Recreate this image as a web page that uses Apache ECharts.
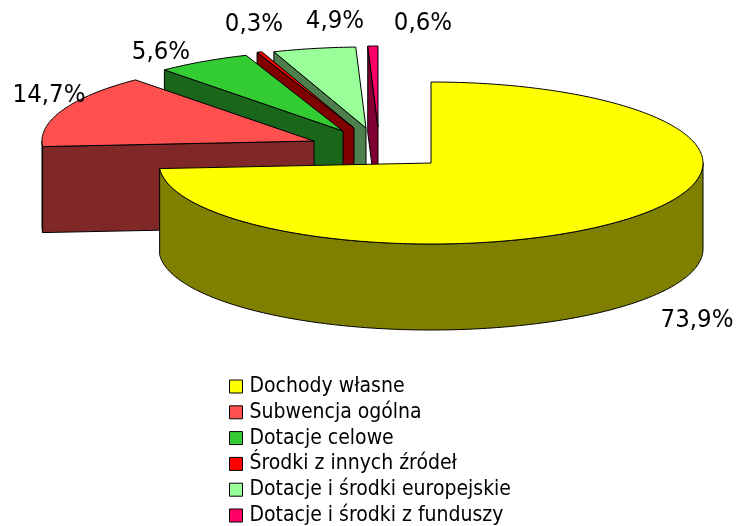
<!DOCTYPE html>
<html>
<head>
<meta charset="utf-8">
<style>
  html, body { margin: 0; padding: 0; background: #fff; }
  #chart { width: 736px; height: 526px; }
</style>
<script src="https://cdn.jsdelivr.net/npm/echarts@6/dist/echarts.min.js"></script>
</head>
<body>
<div id="chart"></div>
<script>
// dane wykresu
const categories = ['Dochody własne', 'Subwencja ogólna', 'Dotacje celowe', 'Środki z innych źródeł', 'Dotacje i środki europejskie', 'Dotacje i środki z funduszy'];
const shares = [73.9, 14.7, 5.6, 0.3, 4.9, 0.6];

// kolory: wierzch i bok
const topColors = ['#ffff00', '#ff5050', '#33cc33', '#ff0000', '#99ff99', '#ff0066'];
const sideColors = ['#808000', '#802828', '#1a661a', '#800000', '#4d804d', '#800033'];

// uklad
const center = [431, 163];
const rx = 272, ry = 81, depth = 86;
const explode = [[0, 0], [-117, -22], [-88, -32], [-77, -35], [-65, -35], [-53, -36]];
const labelPos = [[697, 320], [49, 95], [161, 52], [254, 24], [335, 21], [423, 23]];
const fontName = '"DejaVu Sans Condensed", "DejaVu Sans", sans-serif';

const total = shares.reduce((a, b) => a + b, 0);

function edgePoint(cx, cy, deg) {
  const r = deg * Math.PI / 180;
  return [cx + rx * Math.sin(r), cy - ry * Math.cos(r)];
}

function makeSeries(idx) {
  const before = shares.slice(0, idx).reduce((a, b) => a + b, 0);
  return {
    name: categories[idx],
    type: 'custom',
    coordinateSystem: 'none',
    silent: true,
    animation: false,
    itemStyle: { color: topColors[idx], borderColor: '#000', borderWidth: 1 },
    data: [[shares[idx]]],
    renderItem(params, api) {
      const value = api.value(0);
      const a0 = before / total * 360;
      const a1 = a0 + value / total * 360;
      const cx = center[0] + explode[idx][0];
      const cy = center[1] + explode[idx][1];
      const line = { stroke: '#000', lineWidth: 1, lineJoin: 'round' };
      const children = [];

      // bok zewnetrzny, tylko przednia polowa
      const w0 = Math.max(a0, 90), w1 = Math.min(a1, 270);
      if (w1 > w0) {
        const upper = [];
        for (let a = w0; a < w1; a += 1) upper.push(edgePoint(cx, cy, a));
        upper.push(edgePoint(cx, cy, w1));
        const lower = upper.map(p => [p[0], p[1] + depth]).reverse();
        children.push({
          type: 'polygon',
          shape: { points: upper.concat(lower) },
          style: Object.assign({ fill: sideColors[idx] }, line)
        });
      }

      // sciana przekroju przy poczatku wycinka
      if (a0 > 0) {
        const s = edgePoint(cx, cy, a0);
        children.push({
          type: 'polygon',
          shape: { points: [[cx, cy], s, [s[0], s[1] + depth], [cx, cy + depth]] },
          style: Object.assign({ fill: sideColors[idx] }, line)
        });
      }

      // wierzch
      const pts = [[cx, cy]];
      for (let a = a0; a < a1; a += 1) pts.push(edgePoint(cx, cy, a));
      pts.push(edgePoint(cx, cy, a1));
      children.push({
        type: 'polygon',
        shape: { points: pts },
        style: Object.assign({ fill: topColors[idx] }, line)
      });

      children.push({
        type: 'text',
        z2: 10,
        style: {
          text: value.toFixed(1).replace('.', ',') + '%',
          x: labelPos[idx][0],
          y: labelPos[idx][1],
          align: 'center',
          verticalAlign: 'middle',
          fill: '#000',
          font: '25.5px ' + fontName
        }
      });
      return { type: 'group', children };
    }
  };
}

const myChart = echarts.init(document.getElementById('chart'), null, { renderer: 'canvas' });

// rysowane od tylu: ostatni wycinek pierwszy
const order = [5, 4, 3, 2, 1, 0];

myChart.setOption({
  backgroundColor: '#fff',
  animation: false,
  legend: {
    orient: 'vertical',
    left: 229,
    top: 376,
    padding: 0,
    itemWidth: 13,
    itemHeight: 13,
    itemGap: 4.8,
    selectedMode: false,
    icon: 'rect',
    data: categories,
    itemStyle: { borderColor: '#000', borderWidth: 1 },
    textStyle: { color: '#000', fontSize: 21, lineHeight: 21, fontFamily: fontName, padding: [0, 0, 0, 2] }
  },
  series: order.map(makeSeries)
});
</script>
</body>
</html>
